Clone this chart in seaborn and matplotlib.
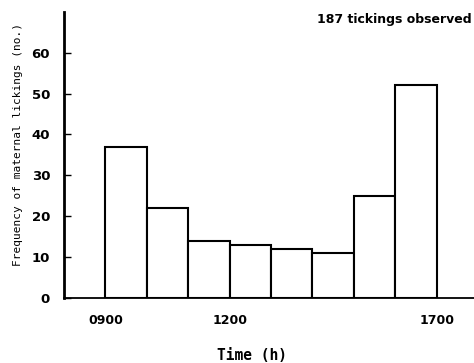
import matplotlib
matplotlib.use("Agg")
import matplotlib.pyplot as plt
import seaborn as sns
import numpy as np
import pandas as pd

# Data: hourly bins (start hour) and counts of maternal lickings
hour_start = [9, 10, 11, 12, 13, 14, 15, 16]
lickings = [37, 22, 14, 13, 12, 11, 25, 52]
xtick_pos = [9, 12, 17]
xtick_labels = ["0900", "1200", "1700"]
ytick_vals = [0, 10, 20, 30, 40, 50, 60]

sns.set_theme(style="white")
plt.rcParams['font.family'] = ['DejaVu Sans']
plt.rcParams['text.color'] = 'black'
plt.rcParams['axes.labelcolor'] = 'black'
plt.rcParams['xtick.color'] = 'black'
plt.rcParams['ytick.color'] = 'black'

df = pd.DataFrame({"hour": np.array(hour_start) + 0.5, "count": lickings})
edges = list(hour_start) + [hour_start[-1] + 1]

fig = plt.figure(figsize=(4.74, 3.63), dpi=100)
ax = fig.add_axes([64/474, 1 - 297.7/363, 1 - 64/474, (297.7 - 12)/363])

sns.histplot(data=df, x="hour", weights="count", bins=edges, ax=ax,
             color="white", edgecolor="black", linewidth=1.5, alpha=1)

ax.set_xlim(8, 17.9)
ax.set_ylim(0, 70)
ax.set_xticks(xtick_pos)
ax.set_xticklabels(xtick_labels, fontsize=9, fontweight="bold")
ax.set_yticks(ytick_vals)
ax.set_yticklabels([str(v) for v in ytick_vals], fontsize=9.5, fontweight="bold")
ax.tick_params(axis="x", length=0, pad=12)
ax.tick_params(axis="y", direction="in", length=5, width=1, color="black", pad=10, left=True)

for s in ["top", "right"]:
    ax.spines[s].set_visible(False)
ax.spines["left"].set_color("black")
ax.spines["left"].set_linewidth(2)
ax.spines["bottom"].set_color("black")
ax.spines["bottom"].set_linewidth(1.3)

ax.set_xlabel("Time (h)", family="DejaVu Sans Mono", fontsize=10.5, fontweight="bold")
ax.set_ylabel("Frequency of maternal lickings (no.)", family="DejaVu Sans Mono", fontsize=8)
ax.yaxis.set_label_coords(-41/410, (297.7 - 145)/285.7)
ax.xaxis.set_label_coords((252 - 64)/410, -(348 - 297.7)/285.7)

fig.text(472/474, 1 - 19/363, "187 tickings observed", ha="right", va="center",
         fontsize=9, fontweight="bold")

fig.savefig("out.png", dpi=100, facecolor="white")
